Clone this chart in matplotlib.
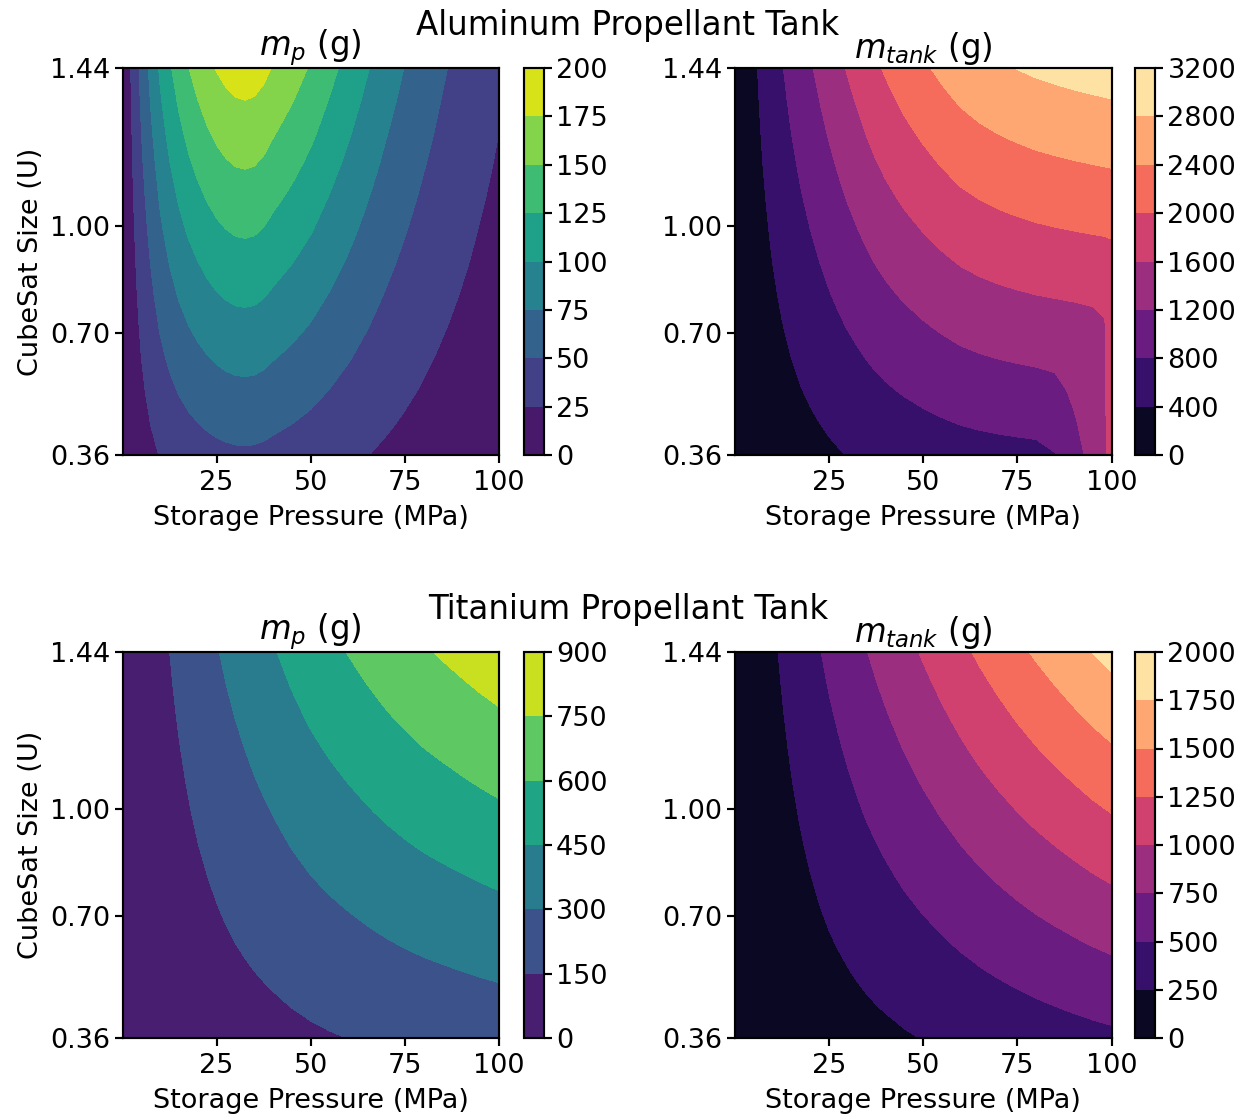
import numpy as np
import matplotlib
matplotlib.use("Agg")
import matplotlib.pyplot as plt

# grid nodes: storage pressure (MPa) and CubeSat size (U)
pressure = [0, 1, 2.5, 5, 7.5, 10, 12.5, 15, 17.5, 20, 22.5, 25, 27.5, 30, 32.5, 35, 37.5, 40,
            45, 50, 55, 60, 65, 70, 75, 80, 85, 90, 95, 98, 100]
size = [0.36, 0.45, 0.54, 0.63, 0.72, 0.81, 0.90, 0.99, 1.08, 1.17, 1.26, 1.35, 1.44]

size_ticks = [0.36, 0.70, 1.00, 1.44]
size_ticklabels = ["0.36", "0.70", "1.00", "1.44"]
pressure_ticks = [25, 50, 75, 100]

# mass per unit of CubeSat size (g/U) at each pressure node
al_mp_per_u = [0, 8, 19.8, 39.5, 56.5, 72, 84.5, 95, 103.8, 111, 117.3, 122.5, 126.3, 128.8, 129.6,
               128.6, 125.5, 120.5, 112, 102.6, 91.8, 81.2, 70.6, 60.5, 51.6, 43.6, 36.4, 30.2,
               24.6, 21.7, 19.8]
al_mtank_per_u = [0, 46, 115, 230, 340, 442, 538, 632, 720, 805, 888, 970, 1050, 1130, 1205,
                  1280, 1350, 1415, 1530, 1630, 1722, 1805, 1865, 1912, 1950, 1983, 2008, 2030,
                  2050, 2061, 2068]
ti_mp_per_u = [0, 8.4, 21, 42, 63, 84, 104, 125, 145, 165, 184, 203, 222, 240, 257, 274, 290, 306,
               338, 368, 395, 420, 445, 469, 491, 512, 530, 548, 566, 576, 583]
ti_mtank_per_u = [0, 15, 37.5, 75, 112.5, 150, 188, 226, 264, 302, 340, 377, 412, 447, 482, 517,
                  550, 582, 647, 709, 771, 833, 893, 950, 1007, 1062, 1114, 1166, 1218, 1246, 1265]

# extra aluminum tank mass (g) in the small-size / high-pressure corner
# rows: size 0.36 .. 0.90, columns: pressure 80, 85, 90, 95, 98, 100
al_mtank_excess = [
    [0, 67, 299, 602, 808, 945],
    [0, 16, 246, 457, 637, 759],
    [0, 16, 164, 323, 462, 573],
    [0, 15, 61, 168, 282, 387],
    [0, 0, 8, 34, 91, 206],
    [0, 0, 0, 0, 0, 25],
    [0, 0, 0, 0, 0, 29],
]

al_mp_levels = [0, 25, 50, 75, 100, 125, 150, 175, 200]
al_mtank_levels = [0, 400, 800, 1200, 1600, 2000, 2400, 2800, 3200]
ti_mp_levels = [0, 150, 300, 450, 600, 750, 900]
ti_mtank_levels = [0, 250, 500, 750, 1000, 1250, 1500, 1750, 2000]

al_mp = np.outer(size, al_mp_per_u)
al_mtank = np.outer(size, al_mtank_per_u)
al_mtank[:7, -6:] += np.array(al_mtank_excess)
ti_mp = np.outer(size, ti_mp_per_u)
ti_mtank = np.outer(size, ti_mtank_per_u)

plt.rcParams.update({
    "xtick.major.size": 2.8, "ytick.major.size": 2.8,
    "xtick.major.pad": 2.9, "ytick.major.pad": 1.8,
})

W, H = 1248, 1117
fig = plt.figure(figsize=(W / 195, H / 195), dpi=195)


def rect(left, top, right, bottom):
    return [left / W, 1 - bottom / H, (right - left) / W, (bottom - top) / H]


def panel(ax_box, cb_box, z, levels, cmap, title, ylabel):
    ax = fig.add_axes(rect(*ax_box))
    cs = ax.contourf(pressure, size, z, levels=levels, cmap=cmap)
    ax.set_xticks(pressure_ticks)
    ax.set_yticks(size_ticks)
    ax.set_yticklabels(size_ticklabels)
    ax.set_xlabel("Storage Pressure (MPa)", labelpad=3.3)
    if ylabel:
        ax.set_ylabel("CubeSat Size (U)", labelpad=2.2)
    ax.set_title(title, pad=3.6)
    cax = fig.add_axes(rect(*cb_box))
    fig.colorbar(cs, cax=cax, ticks=levels)
    return ax


panel((122.5, 68, 499, 455), (524, 68, 543.5, 455), al_mp, al_mp_levels,
      "viridis", r"$m_p$ (g)", True)
panel((734.5, 68, 1111.5, 455), (1135, 68, 1155, 455), al_mtank, al_mtank_levels,
      "magma", r"$m_{tank}$ (g)", False)
panel((122.5, 652, 499, 1038), (524, 652, 543.5, 1038), ti_mp, ti_mp_levels,
      "viridis", r"$m_p$ (g)", True)
panel((734.5, 652, 1111.5, 1038), (1135, 652, 1155, 1038), ti_mtank, ti_mtank_levels,
      "magma", r"$m_{tank}$ (g)", False)

fig.text(628 / W, 1 - 35 / H, "Aluminum Propellant Tank", ha="center", va="baseline", fontsize=12)
fig.text(628 / W, 1 - 619 / H, "Titanium Propellant Tank", ha="center", va="baseline", fontsize=12)

fig.savefig("out.png", dpi=195)
